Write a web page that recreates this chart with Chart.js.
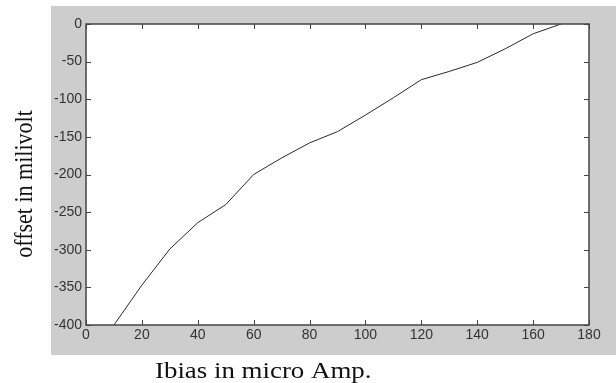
<!DOCTYPE html>
<html>
<head>
<meta charset="utf-8">
<script src="https://cdn.jsdelivr.net/npm/chart.js@4"></script>
<style>
  html, body { margin: 0; padding: 0; background: #fff; }
  canvas { display: block; }
</style>
</head>
<body>
<canvas id="offsetChart" width="616" height="383"></canvas>
<script>
// data
const ibias = [10, 20, 30, 40, 50, 60, 70, 80, 90, 100, 110, 120, 130, 140, 150, 160, 170];
const offsetMv = [-400, -347, -299, -264, -240, -200, -178, -158, -143, -121, -98, -74, -63, -51, -33, -13, 0];
const xTicks = [0, 20, 40, 60, 80, 100, 120, 140, 160, 180];
const yTicks = [0, -50, -100, -150, -200, -250, -300, -350, -400];

const xTitle = "Ibias in micro Amp.";
const yTitle = "offset in milivolt";

// grey figure background + white axes box, matlab style
const frame = {
    id: "frame",
    beforeDraw(chart) {
        const { ctx, chartArea: a } = chart;
        ctx.save();
        ctx.fillStyle = "#cdcdcd";
        ctx.fillRect(51, 6, 616 - 51, 355 - 6);
        ctx.fillStyle = "#ffffff";
        ctx.fillRect(a.left, a.top, a.right - a.left, a.bottom - a.top);
        ctx.restore();
    },
    afterDraw(chart) {
        const { ctx, chartArea: a } = chart;
        const xs = chart.scales.x, ys = chart.scales.y;
        ctx.save();
        ctx.strokeStyle = "#444";
        ctx.lineWidth = 1;
        ctx.beginPath();
        // inward ticks on all four sides
        xs.ticks.forEach(t => {
            const px = Math.round(xs.getPixelForValue(t.value)) + 0.5;
            ctx.moveTo(px, a.bottom); ctx.lineTo(px, a.bottom - 5);
            ctx.moveTo(px, a.top); ctx.lineTo(px, a.top + 5);
        });
        ys.ticks.forEach(t => {
            const py = Math.round(ys.getPixelForValue(t.value)) + 0.5;
            ctx.moveTo(a.left, py); ctx.lineTo(a.left + 5, py);
            ctx.moveTo(a.right, py); ctx.lineTo(a.right - 5, py);
        });
        ctx.stroke();
        ctx.lineWidth = 1.5;
        ctx.strokeRect(a.left, a.top, a.right - a.left, a.bottom - a.top);

        // axis titles (serif, slightly stretched like the source)
        ctx.fillStyle = "#111";
        ctx.font = '24px "Liberation Serif", "DejaVu Serif", serif';
        ctx.textBaseline = "alphabetic";
        ctx.textAlign = "left";
        ctx.save();
        ctx.translate(155, 378);
        ctx.scale(1.12, 1);
        ctx.fillText(xTitle, 0, 0);
        ctx.restore();

        ctx.font = '22px "Liberation Serif", "DejaVu Serif", serif';
        ctx.textAlign = "center";
        ctx.save();
        ctx.translate(32, 184);
        ctx.scale(1.12, 1);
        ctx.rotate(-Math.PI / 2);
        ctx.fillText(yTitle, 0, 0);
        ctx.restore();
        ctx.restore();
    }
};

const tickFont = { family: '"Liberation Sans", Arial, sans-serif', size: 14 };

new Chart(document.getElementById("offsetChart"), {
    type: "line",
    data: {
        datasets: [{
            data: ibias.map((v, i) => ({ x: v, y: offsetMv[i] })),
            borderColor: "#2a2a2a",
            borderWidth: 1,
            pointRadius: 0,
            tension: 0,
            fill: false
        }]
    },
    options: {
        responsive: false,
        animation: false,
        layout: { padding: { left: 0, top: 24, right: 27, bottom: 0 } },
        plugins: {
            legend: { display: false },
            tooltip: { enabled: false }
        },
        scales: {
            x: {
                type: "linear",
                min: 0,
                max: 180,
                afterBuildTicks: s => { s.ticks = xTicks.map(v => ({ value: v })); },
                afterFit: s => { s.height = 58; },
                ticks: { color: "#333", font: tickFont, padding: 2, maxRotation: 0 },
                grid: { display: false, drawTicks: false },
                border: { display: false }
            },
            y: {
                type: "linear",
                min: -400,
                max: 0,
                afterBuildTicks: s => { s.ticks = yTicks.map(v => ({ value: v })); },
                afterFit: s => { s.width = 86; },
                ticks: { color: "#333", font: tickFont, padding: 4 },
                grid: { display: false, drawTicks: false },
                border: { display: false }
            }
        }
    },
    plugins: [frame]
});
</script>
</body>
</html>
